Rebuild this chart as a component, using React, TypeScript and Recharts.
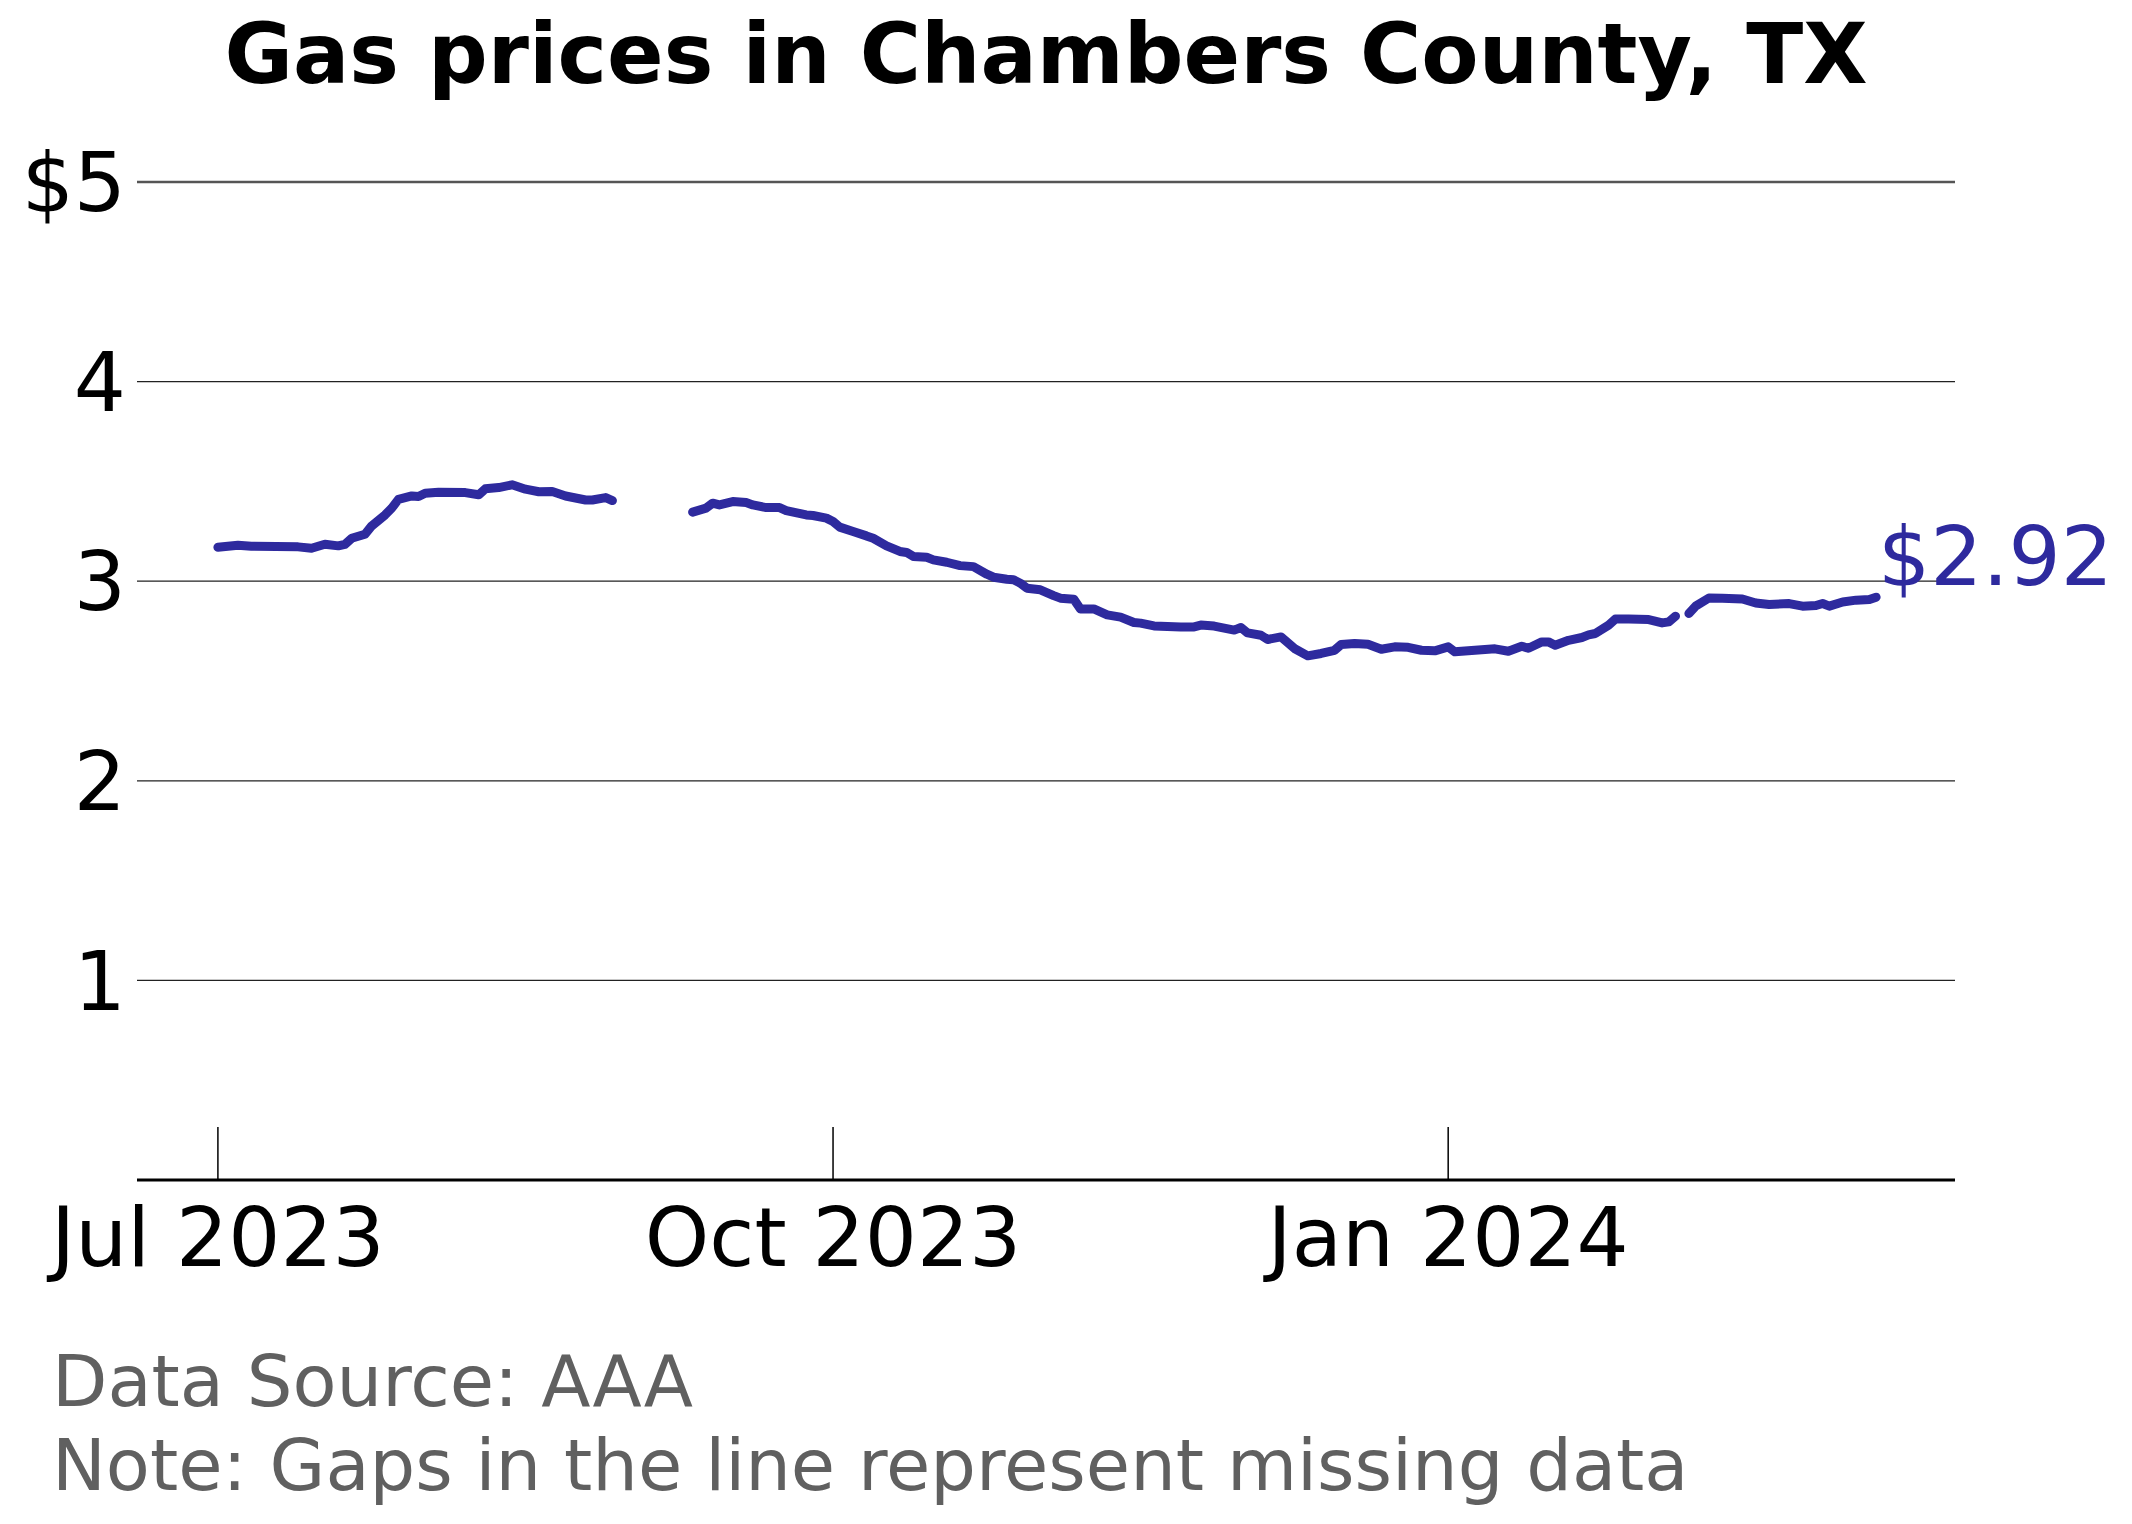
import React from "react";
import { LineChart, Line, XAxis, YAxis, CartesianGrid, ReferenceLine } from "recharts";

// AAA daily average; null = missing day (gap)
const DATES = [
  "2023-07-01", "2023-07-04", "2023-07-06", "2023-07-13", "2023-07-15", "2023-07-17",
  "2023-07-19", "2023-07-20", "2023-07-21", "2023-07-23", "2023-07-24", "2023-07-26",
  "2023-07-27", "2023-07-28", "2023-07-30", "2023-07-31", "2023-08-01", "2023-08-03",
  "2023-08-07", "2023-08-09", "2023-08-10", "2023-08-12", "2023-08-14", "2023-08-16",
  "2023-08-18", "2023-08-20", "2023-08-22", "2023-08-25", "2023-08-26", "2023-08-28",
  "2023-08-29", "2023-08-30",
  "2023-09-10", "2023-09-12", "2023-09-13", "2023-09-14", "2023-09-16", "2023-09-18",
  "2023-09-19", "2023-09-21", "2023-09-23", "2023-09-24", "2023-09-27", "2023-09-28",
  "2023-09-30", "2023-10-01", "2023-10-02", "2023-10-04", "2023-10-06", "2023-10-07",
  "2023-10-09", "2023-10-11", "2023-10-12", "2023-10-13", "2023-10-15", "2023-10-16",
  "2023-10-18", "2023-10-20", "2023-10-22", "2023-10-24", "2023-10-25", "2023-10-27",
  "2023-10-28", "2023-10-29", "2023-10-30", "2023-11-01", "2023-11-03", "2023-11-04",
  "2023-11-06", "2023-11-07", "2023-11-09", "2023-11-11", "2023-11-13", "2023-11-15",
  "2023-11-16", "2023-11-18", "2023-11-22", "2023-11-24", "2023-11-25", "2023-11-27",
  "2023-11-30", "2023-12-01", "2023-12-02", "2023-12-04", "2023-12-05", "2023-12-07",
  "2023-12-09", "2023-12-11", "2023-12-13", "2023-12-15", "2023-12-16", "2023-12-18",
  "2023-12-20", "2023-12-22", "2023-12-24", "2023-12-26", "2023-12-28", "2023-12-30",
  "2024-01-01", "2024-01-02", "2024-01-05", "2024-01-08", "2024-01-10", "2024-01-12",
  "2024-01-13", "2024-01-15", "2024-01-16", "2024-01-17", "2024-01-19", "2024-01-21",
  "2024-01-22", "2024-01-23", "2024-01-25", "2024-01-26", "2024-01-28", "2024-01-31",
  "2024-02-02", "2024-02-03", "2024-02-04", "2024-02-05",
  "2024-02-06", "2024-02-07", "2024-02-09", "2024-02-11", "2024-02-14", "2024-02-16",
  "2024-02-18", "2024-02-21", "2024-02-23", "2024-02-25", "2024-02-26", "2024-02-27",
  "2024-02-29", "2024-03-02", "2024-03-04", "2024-03-05",
];

const PRICES: (number | null)[] = [
  3.17, 3.18, 3.175, 3.172, 3.165, 3.185,
  3.177, 3.185, 3.215, 3.235, 3.277, 3.332,
  3.366, 3.41, 3.427, 3.424, 3.441, 3.446,
  3.444, 3.433, 3.463, 3.469, 3.483, 3.461,
  3.448, 3.449, 3.427, 3.407, 3.407, 3.419,
  3.404, null,
  3.346, 3.366, 3.391, 3.382, 3.399, 3.394,
  3.382, 3.369, 3.369, 3.354, 3.332, 3.329,
  3.316, 3.299, 3.271, 3.249, 3.227, 3.215,
  3.177, 3.149, 3.144, 3.124, 3.12, 3.107,
  3.095, 3.078, 3.073, 3.035, 3.02, 3.01,
  3.007, 2.99, 2.965, 2.957, 2.928, 2.915,
  2.91, 2.861, 2.861, 2.831, 2.82, 2.793,
  2.79, 2.776, 2.771, 2.771, 2.78, 2.775,
  2.755, 2.768, 2.741, 2.729, 2.708, 2.721,
  2.663, 2.626, 2.638, 2.654, 2.683, 2.688,
  2.684, 2.659, 2.671, 2.669, 2.654, 2.651,
  2.671, 2.646, 2.654, 2.661, 2.649, 2.674,
  2.664, 2.696, 2.696, 2.679, 2.704, 2.718,
  2.731, 2.738, 2.78, 2.81, 2.81, 2.808,
  2.791, 2.796, 2.825, null,
  2.838, 2.875, 2.916, 2.915, 2.911, 2.891,
  2.883, 2.888, 2.875, 2.878, 2.888, 2.875,
  2.896, 2.905, 2.908, 2.92,
];

const X_TICK_DATES = ["2023-07-01", "2023-10-01", "2024-01-01"];
const X_TICK_LABELS = ["Jul 2023", "Oct 2023", "Jan 2024"];
const Y_TICKS = [1, 2, 3, 4, 5];

const TITLE = "Gas prices in Chambers County, TX";
const NOTES = ["Data Source: AAA", "Note: Gaps in the line represent missing data"];

const LINE_COLOR = "#2e2a9e";
const FONT = "'DejaVu Sans', sans-serif";
const START = Date.UTC(2023, 6, 1);
const dayOf = (d: string) => {
  const [y, m, dd] = d.split("-").map(Number);
  return Math.round((Date.UTC(y, m - 1, dd) - START) / 86400000);
};

const data = DATES.map((d, i) => ({ day: dayOf(d), price: PRICES[i] }));
const xTicks = X_TICK_DATES.map(dayOf);

function DateTick(props: any) {
  const { x, y, payload } = props;
  const idx = xTicks.indexOf(payload.value);
  return (
    <g>
      <line x1={x} x2={x} y1={y - 53} y2={y} stroke="#000" strokeWidth={1.5} />
      <text x={x} y={y + 86} textAnchor="middle" fontSize={82} fontFamily={FONT} fill="#000">
        {X_TICK_LABELS[idx]}
      </text>
    </g>
  );
}

function EndLabel(props: any) {
  const { x, y, index, value } = props;
  if (index !== data.length - 1 || value == null) return null;
  return (
    <text x={x + 2} y={y - 12} fontSize={82} fontFamily={FONT} fill={LINE_COLOR}>
      {`$${Number(value).toFixed(2)}`}
    </text>
  );
}

export default function App() {
  return (
    <div style={{ position: "absolute", left: 0, top: 0, width: 2132, height: 1524, background: "#fff" }}>
      <LineChart
        width={2132}
        height={1524}
        data={data}
        margin={{ top: 182, right: 177, bottom: 0, left: 0 }}
      >
        <CartesianGrid vertical={false} stroke="#222" strokeWidth={1.2} />
        <ReferenceLine y={5} stroke="#555" strokeWidth={2.5} />
        <XAxis
          type="number"
          dataKey="day"
          domain={[-12.1, 259.8]}
          allowDataOverflow
          ticks={xTicks}
          tick={<DateTick />}
          tickLine={false}
          tickSize={0}
          tickMargin={0}
          height={344}
          axisLine={{ stroke: "#000", strokeWidth: 3 }}
        />
        <YAxis
          type="number"
          domain={[0, 5]}
          ticks={Y_TICKS}
          width={137}
          axisLine={false}
          tickLine={false}
          tickSize={0}
          tickMargin={11}
          tick={{ fontSize: 82, fontFamily: FONT, fill: "#000" }}
          tickFormatter={(v: number) => (v === 5 ? "$5" : String(v))}
        />
        <Line
          type="linear"
          dataKey="price"
          stroke={LINE_COLOR}
          strokeWidth={9}
          strokeLinecap="round"
          strokeLinejoin="round"
          dot={false}
          connectNulls={false}
          isAnimationActive={false}
          label={<EndLabel />}
        />
      </LineChart>
      <svg
        width={2132}
        height={1524}
        style={{ position: "absolute", left: 0, top: 0, pointerEvents: "none" }}
      >
        <text x={1046} y={83} textAnchor="middle" fontSize={83.5} fontWeight="bold" fontFamily={FONT} fill="#000">
          {TITLE}
        </text>
        {NOTES.map((t, i) => (
          <text key={t} x={52} y={1406 + i * 84} fontSize={72} fontFamily={FONT} fill="#606060">
            {t}
          </text>
        ))}
      </svg>
    </div>
  );
}
